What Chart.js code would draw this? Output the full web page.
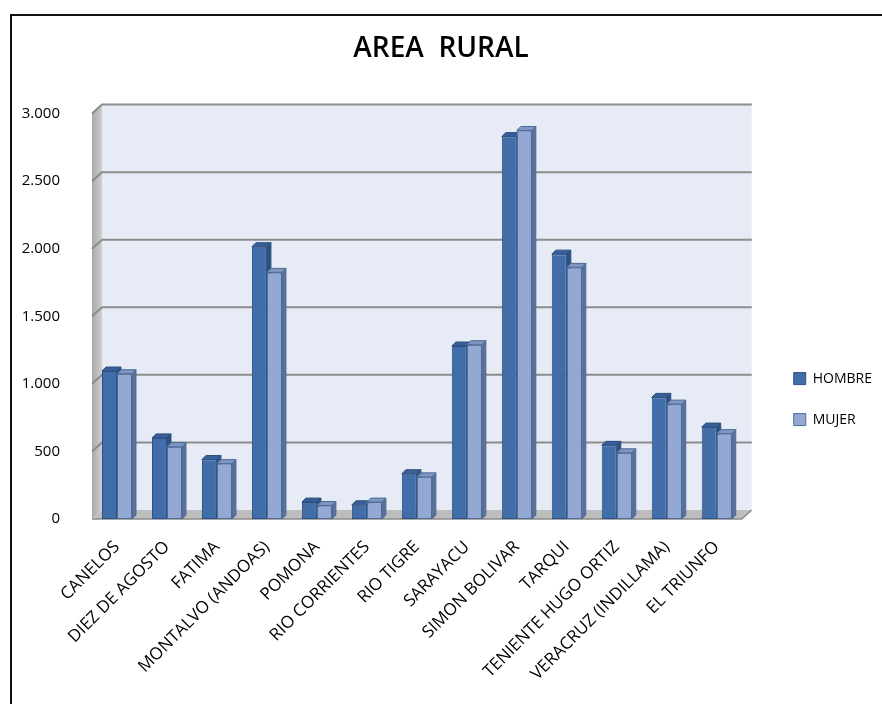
<!DOCTYPE html>
<html>
<head>
<meta charset="utf-8">
<script src="https://cdn.jsdelivr.net/npm/chart.js@4"></script>
<style>
  body { margin: 0; background: #fff; }
  #wrap { width: 882px; height: 704px; }
</style>
</head>
<body>
<div id="wrap"><canvas id="rural-chart" width="882" height="704"></canvas></div>
<script>
// datos
var parroquias = ['CANELOS', 'DIEZ DE AGOSTO', 'FATIMA', 'MONTALVO (ANDOAS)', 'POMONA', 'RIO CORRIENTES',
    'RIO TIGRE', 'SARAYACU', 'SIMON BOLIVAR', 'TARQUI', 'TENIENTE HUGO ORTIZ', 'VERACRUZ (INDILLAMA)', 'EL TRIUNFO'];
var hombre = [1095, 600, 440, 2015, 125, 105, 335, 1280, 2830, 1960, 545, 900, 680];
var mujer = [1075, 535, 410, 1825, 100, 125, 312, 1290, 2875, 1862, 490, 850, 632];
var ticksY = [0, 500, 1000, 1500, 2000, 2500, 3000];

var DX = 10, DY = 9;      // profundidad de las paredes
var BD = 4;               // profundidad de cada barra

function fmt(v) {
    return v.toString().replace(/\B(?=(\d{3})+(?!\d))/g, '.');
}

function caras(ctx, bar, ds) {
    var p = bar.getProps(['x', 'y', 'base', 'width'], true);
    var l = p.x - p.width / 2, r = p.x + p.width / 2;
    ctx.strokeStyle = ds.borderColor;
    ctx.lineWidth = 1;
    // cara lateral
    ctx.fillStyle = ds.sideColor;
    ctx.beginPath();
    ctx.moveTo(r, p.y);
    ctx.lineTo(r + BD, p.y - BD);
    ctx.lineTo(r + BD, p.base - BD);
    ctx.lineTo(r, p.base);
    ctx.closePath();
    ctx.fill();
    ctx.stroke();
    // cara superior
    ctx.fillStyle = ds.topColor;
    ctx.beginPath();
    ctx.moveTo(l, p.y);
    ctx.lineTo(l + BD, p.y - BD);
    ctx.lineTo(r + BD, p.y - BD);
    ctx.lineTo(r, p.y);
    ctx.closePath();
    ctx.fill();
    ctx.stroke();
}

// fondo, paredes, piso, grilla y efecto 3D
var paredes = {
    id: 'paredes',
    beforeDraw: function (chart) {
        var ctx = chart.ctx;
        ctx.save();
        ctx.fillStyle = '#fff';
        ctx.fillRect(0, 0, chart.width, chart.height);
        ctx.strokeStyle = '#111';
        ctx.lineWidth = 2;
        ctx.strokeRect(11, 15, 900, 800);
        ctx.restore();
    },
    beforeDatasetsDraw: function (chart) {
        var ctx = chart.ctx;
        var a = chart.chartArea;
        var y = chart.scales.y;
        var y0 = y.getPixelForValue(0);
        var yt = y.getPixelForValue(3000);
        ctx.save();
        ctx.fillStyle = '#e6ebf5';
        ctx.fillRect(a.left + DX, yt - DY, a.right - a.left, y0 - yt);
        var g = ctx.createLinearGradient(a.left, 0, a.left + DX, 0);
        g.addColorStop(0, '#a9a9a9');
        g.addColorStop(1, '#cfcfcf');
        ctx.fillStyle = g;
        ctx.beginPath();
        ctx.moveTo(a.left, y0);
        ctx.lineTo(a.left, yt);
        ctx.lineTo(a.left + DX, yt - DY);
        ctx.lineTo(a.left + DX, y0 - DY);
        ctx.closePath();
        ctx.fill();
        ctx.strokeStyle = '#8c8c8c';
        ctx.lineWidth = 2;
        ticksY.forEach(function (v) {
            if (v === 0) return;
            var p = y.getPixelForValue(v);
            ctx.beginPath();
            ctx.moveTo(a.left, p);
            ctx.lineTo(a.left + DX, p - DY);
            ctx.lineTo(a.right + DX, p - DY);
            ctx.stroke();
        });
        // piso
        ctx.fillStyle = '#bdbdbd';
        ctx.beginPath();
        ctx.moveTo(a.left, y0);
        ctx.lineTo(a.left + DX, y0 - DY);
        ctx.lineTo(a.right + DX, y0 - DY);
        ctx.lineTo(a.right, y0);
        ctx.closePath();
        ctx.fill();
        ctx.strokeStyle = '#8a8a8a';
        ctx.lineWidth = 1.5;
        ctx.beginPath();
        ctx.moveTo(a.left, y0);
        ctx.lineTo(a.right, y0);
        ctx.lineTo(a.right + DX, y0 - DY);
        ctx.stroke();
        ctx.restore();
    },
    afterDatasetsDraw: function (chart) {
        // HOMBRE queda detras de MUJER: caras de HOMBRE, luego MUJER encima
        var ctx = chart.ctx;
        var mH = chart.getDatasetMeta(0), mM = chart.getDatasetMeta(1);
        var dH = chart.data.datasets[0], dM = chart.data.datasets[1];
        ctx.save();
        for (var i = 0; i < parroquias.length; i++) {
            caras(ctx, mH.data[i], dH);
            mM.data[i].draw(ctx, chart.chartArea);
            caras(ctx, mM.data[i], dM);
        }
        ctx.restore();
    }
};

var ctx = document.getElementById('rural-chart').getContext('2d');
var ruralChart = new Chart(ctx, {
    type: 'bar',
    data: {
        labels: parroquias,
        datasets: [{
            label: 'HOMBRE',
            data: hombre,
            backgroundColor: '#416ea8',
            borderColor: '#2d4f80',
            sideColor: '#2c5183',
            topColor: '#385f98',
            borderWidth: 1,
            borderSkipped: false
        }, {
            label: 'MUJER',
            data: mujer,
            backgroundColor: '#93a9d4',
            borderColor: '#4d6a97',
            sideColor: '#5b7199',
            topColor: '#7f96c3',
            borderWidth: 1,
            borderSkipped: false
        }]
    },
    options: {
        responsive: false,
        animation: false,
        layout: { padding: { top: 14, right: 0, left: 0, bottom: 0 } },
        datasets: { bar: { categoryPercentage: 0.6, barPercentage: 1 } },
        scales: {
            x: {
                grid: { display: false, drawTicks: false },
                border: { display: false },
                ticks: {
                    color: '#000',
                    font: { family: 'Open Sans', size: 17 },
                    minRotation: 45,
                    maxRotation: 45,
                    autoSkip: false,
                    padding: 18
                },
                afterFit: function (scale) { scale.height = 185; }
            },
            y: {
                min: 0,
                max: 3000,
                grid: { display: false, drawTicks: false },
                border: { display: false },
                ticks: {
                    stepSize: 500,
                    color: '#000',
                    font: { family: 'Open Sans', size: 15 },
                    padding: 32,
                    callback: function (v) { return fmt(v); }
                },
                afterFit: function (scale) { scale.width = 92; }
            },
            // hueco entre el grafico y la leyenda
            y2: {
                position: 'right',
                grid: { display: false, drawTicks: false },
                border: { display: false },
                ticks: { display: false },
                afterFit: function (scale) { scale.width = 25; }
            }
        },
        plugins: {
            title: {
                display: true,
                text: 'AREA  RURAL',
                color: '#000',
                font: { family: 'Open Sans', size: 28, weight: '600' },
                padding: { top: 18, bottom: 48 }
            },
            legend: {
                position: 'right',
                title: { display: true, text: '', font: { size: 1 }, padding: { top: 40, bottom: 39 } },
                labels: {
                    color: '#000',
                    font: { family: 'Open Sans', size: 14 },
                    boxWidth: 12,
                    boxHeight: 12,
                    padding: 27
                }
            },
            tooltip: { enabled: false }
        }
    },
    plugins: [paredes]
});
</script>
</body>
</html>
